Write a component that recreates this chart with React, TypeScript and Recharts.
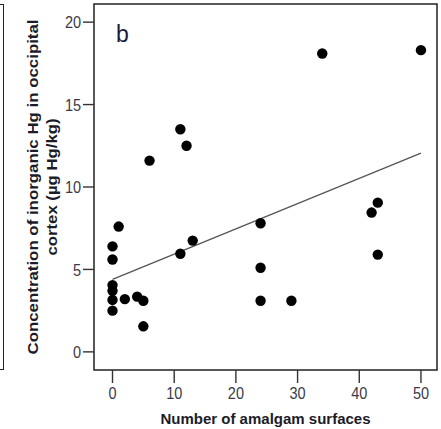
import React from "react";
import {
  ComposedChart,
  Scatter,
  XAxis,
  YAxis,
  ReferenceArea,
  ReferenceLine,
} from "recharts";

const amalgamSurfaces = [0, 0, 0, 0, 0, 0, 1, 2, 4, 5, 5, 6, 11, 11, 12, 13, 24, 24, 24, 29, 34, 42, 43, 43, 50];
const hgConcentration = [6.4, 5.6, 4.05, 3.7, 3.15, 2.5, 7.6, 3.2, 3.35, 3.1, 1.55, 11.6, 13.5, 5.95, 12.5, 6.75, 7.8, 5.1, 3.1, 3.1, 18.1, 8.45, 9.05, 5.9, 18.3];
const regressionX = [0, 50];
const regressionY = [4.4, 12.05];
const xTicks = [0, 10, 20, 30, 40, 50];
const yTicks = [0, 5, 10, 15, 20];
const xDomain = [-3, 52.6];
const yDomain = [-1.1, 21.1];

const points = amalgamSurfaces.map((x, i) => ({ x, y: hgConcentration[i] }));

const FONT = '"Liberation Sans", Arial, sans-serif';
const TICK_FILL = "#3a3a48";

const Dot = (props: any) => {
  const { cx, cy } = props;
  if (cx == null || cy == null) return null;
  return <circle cx={cx} cy={cy} r={5.2} fill="#000" />;
};

const XTick = (props: any) => {
  const { x, y, payload } = props;
  return (
    <g transform={`translate(${x},${y}) scale(1,1.2)`}>
      <text x={0} y={0} dy="0.71em" textAnchor="middle" fontFamily={FONT} fontSize={14.5} fill={TICK_FILL}>
        {payload.value}
      </text>
    </g>
  );
};

const YTick = (props: any) => {
  const { x, y, payload } = props;
  return (
    <g transform={`translate(${x},${y}) scale(1,1.2)`}>
      <text x={0} y={0} dy="0.355em" textAnchor="end" fontFamily={FONT} fontSize={14.5} fill={TICK_FILL}>
        {payload.value}
      </text>
    </g>
  );
};

const YTitle = (props: any) => {
  const vb = props.viewBox || { x: 0, y: 4, width: 94, height: 366 };
  const cy = vb.y + vb.height / 2;
  return (
    <g fontFamily={FONT} fontWeight="bold" fontSize={14} fill="#1c1c28">
      <text
        x={38}
        y={cy}
        textAnchor="middle"
        textLength={335}
        lengthAdjust="spacingAndGlyphs"
        transform={`rotate(-90, 38, ${cy})`}
      >
        Concentration of inorganic Hg in occipital
      </text>
      <text
        x={57}
        y={cy}
        textAnchor="middle"
        textLength={137}
        lengthAdjust="spacingAndGlyphs"
        transform={`rotate(-90, 57, ${cy})`}
      >
        cortex (µg Hg/kg)
      </text>
    </g>
  );
};

const PanelLabel = (props: any) => {
  const vb = props.viewBox || { x: 94, y: 4 };
  return (
    <text x={vb.x + 22} y={vb.y + 38} fontFamily={FONT} fontSize={23} fill="#1a1a3a">
      b
    </text>
  );
};

export default function App() {
  return (
    <div style={{ position: "absolute", left: 0, top: 0, width: 441, height: 429, background: "#fff" }}>
      <div
        style={{
          position: "absolute",
          left: 0,
          top: 4,
          width: 3,
          height: 364,
          borderRight: "1.5px solid #222",
          borderTop: "1.5px solid #222",
          borderBottom: "1.5px solid #222",
        }}
      />
      <ComposedChart width={441} height={429} margin={{ top: 4, right: 4, left: 0, bottom: 0 }}>
        <XAxis
          type="number"
          dataKey="x"
          domain={xDomain}
          ticks={xTicks}
          allowDataOverflow
          axisLine={false}
          tickLine={{ stroke: "#333", strokeWidth: 1.4 }}
          tickSize={13}
          tickMargin={4}
          height={59}
          tick={XTick}
          label={{
            value: "Number of amalgam surfaces",
            position: "insideBottom",
            offset: 5,
            style: { fontFamily: FONT, fontWeight: "bold", fontSize: 15, fill: "#1c1c28" },
          }}
        />
        <YAxis
          type="number"
          dataKey="y"
          domain={yDomain}
          ticks={yTicks}
          allowDataOverflow
          axisLine={false}
          tickLine={{ stroke: "#333", strokeWidth: 1.4 }}
          tickSize={11}
          tickMargin={2}
          width={94}
          tick={YTick}
          label={{ content: YTitle }}
        />
        <ReferenceArea
          x1={xDomain[0]}
          x2={xDomain[1]}
          y1={yDomain[0]}
          y2={yDomain[1]}
          fill="none"
          stroke="#222"
          strokeWidth={1.5}
          ifOverflow="visible"
          label={{ content: PanelLabel }}
        />
        <ReferenceLine
          segment={[
            { x: regressionX[0], y: regressionY[0] },
            { x: regressionX[1], y: regressionY[1] },
          ]}
          stroke="#555"
          strokeWidth={1.3}
        />
        <Scatter data={points} shape={Dot} isAnimationActive={false} />
      </ComposedChart>
    </div>
  );
}
